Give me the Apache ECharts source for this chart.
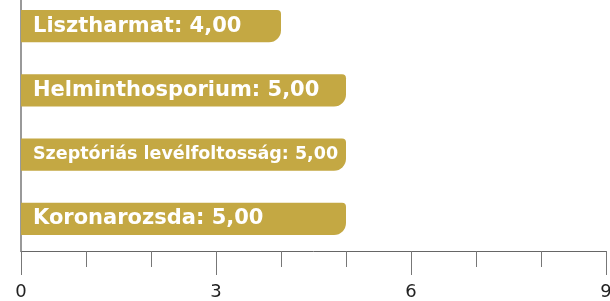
<!DOCTYPE html>
<html>
<head>
<meta charset="utf-8">
<script src="https://cdn.jsdelivr.net/npm/echarts@6/dist/echarts.min.js"></script>
<style>
  html, body { margin: 0; padding: 0; background: #fff; }
  #chart { width: 610px; height: 301px; }
</style>
</head>
<body>
<div id="chart"></div>
<script>
// adatok
const categories = ['Lisztharmat', 'Helminthosporium', 'Szeptóriás levélfoltosság', 'Koronarozsda']
const values = [4, 5, 5, 5]
const labelSizes = [21, 21, 17.5, 21]

const chart = echarts.init(document.getElementById('chart'))

const option = {
  animation: false,
  grid: {
    left: 21,
    right: 4,
    top: -6,
    bottom: 50,
    outerBoundsMode: 'none',
    containLabel: false
  },
  xAxis: {
    type: 'value',
    min: 0,
    max: 9,
    interval: 3,
    splitLine: { show: false },
    axisLine: { show: true, lineStyle: { color: '#666', width: 1 } },
    axisTick: { show: true, length: 24, lineStyle: { color: '#777', width: 1 } },
    minorTick: { show: true, splitNumber: 3, length: 16, lineStyle: { color: '#777', width: 1 } },
    axisLabel: {
      margin: 32,
      color: '#222',
      fontSize: 18,
      fontFamily: 'DejaVu Sans'
    }
  },
  yAxis: {
    type: 'category',
    inverse: true,
    data: categories,
    axisLine: { show: true, lineStyle: { color: '#999', width: 2 } },
    axisTick: { show: false },
    axisLabel: { show: false }
  },
  series: [{
    type: 'bar',
    barWidth: '50%',
    data: values.map((v, i) => ({
      value: v,
      label: { fontSize: labelSizes[i] }
    })),
    itemStyle: {
      color: '#c4a843',
      borderRadius: [0, 4, 12, 0]
    },
    label: {
      show: true,
      position: 'insideLeft',
      distance: 12,
      color: '#fff',
      fontFamily: 'DejaVu Sans',
      fontWeight: 'bold',
      formatter: (p) => p.name + ': ' + p.value.toFixed(2).replace('.', ',')
    }
  }]
}

chart.setOption(option)
</script>
</body>
</html>
